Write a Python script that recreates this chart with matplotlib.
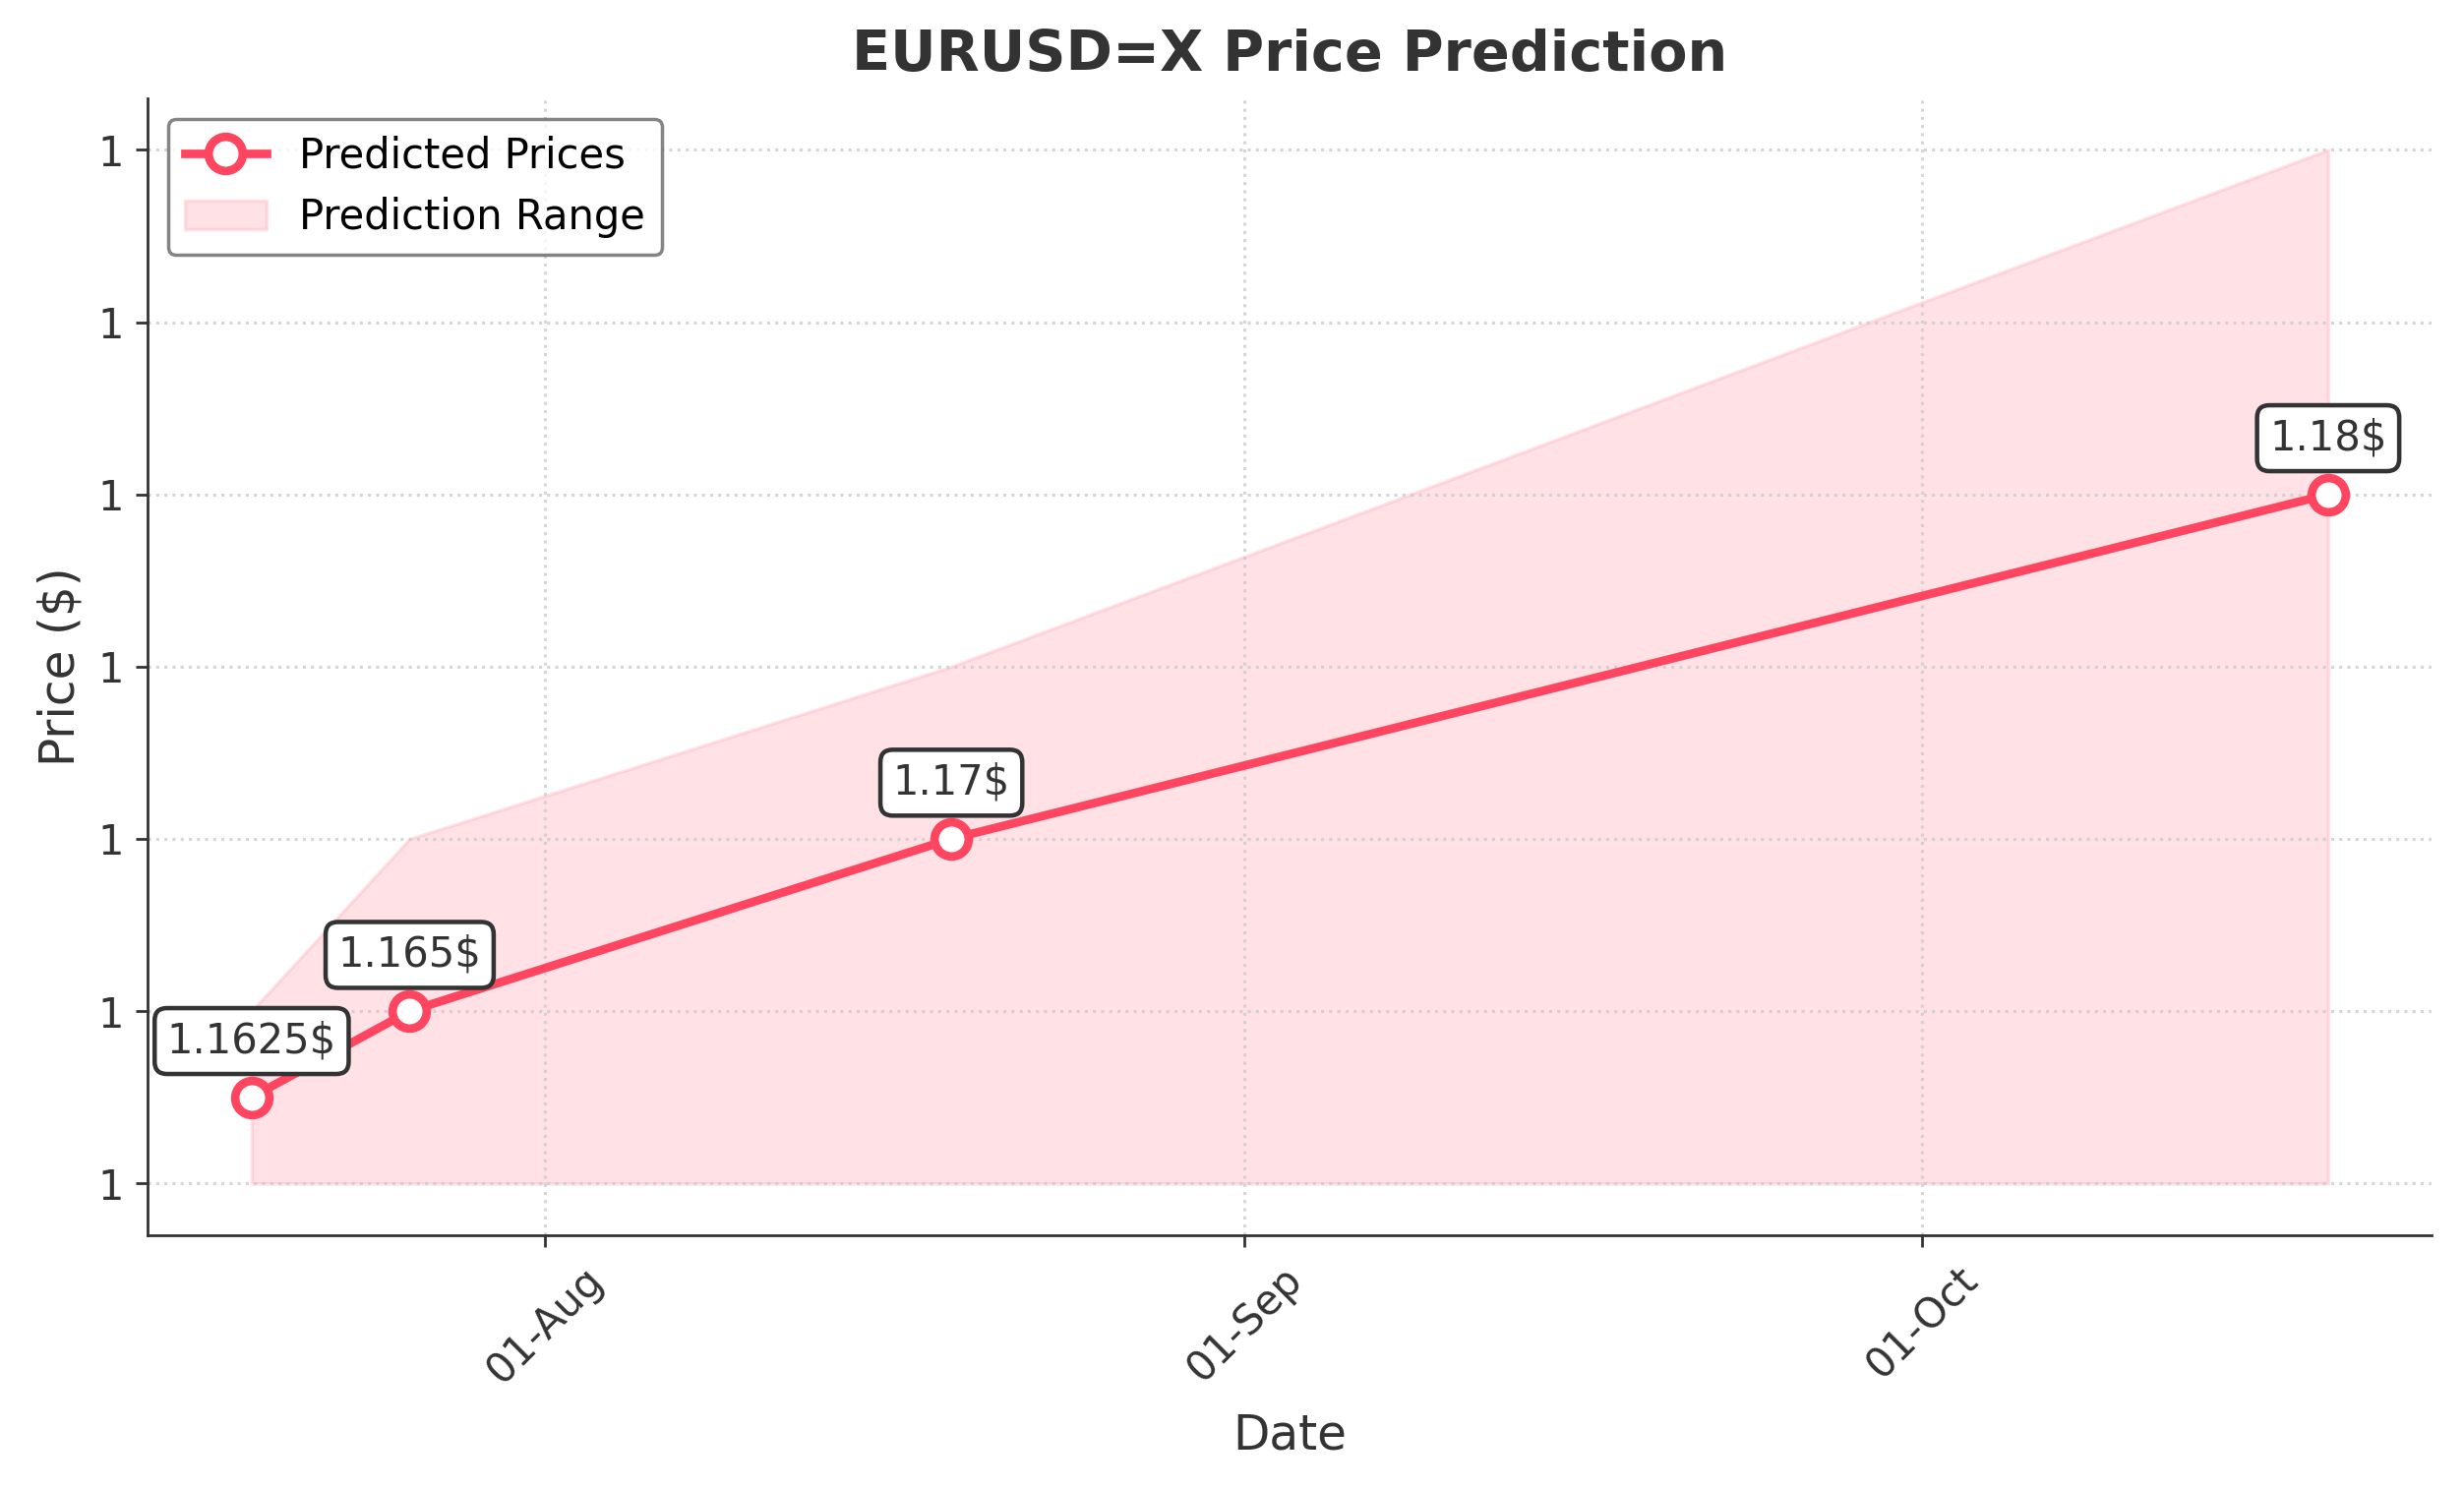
import matplotlib
matplotlib.use("Agg")
import matplotlib.pyplot as plt
import matplotlib.dates as mdates
import numpy as np
import pandas as pd

# data
dates = pd.to_datetime(["2025-07-19", "2025-07-26", "2025-08-19", "2025-10-19"])
predicted = [1.1625, 1.165, 1.17, 1.18]
range_low = [1.16, 1.16, 1.16, 1.16]
range_high = [1.165, 1.17, 1.175, 1.19]
labels = ["1.1625$", "1.165$", "1.17$", "1.18$"]

line_color = "#FF4560"
text_color = "#333333"

plt.rcParams['font.family'] = ['DejaVu Sans']
plt.rcParams['text.color'] = text_color
plt.rcParams['axes.labelcolor'] = text_color
plt.rcParams['xtick.color'] = text_color
plt.rcParams['ytick.color'] = text_color

fig, ax = plt.subplots(figsize=(10.02, 6.052), dpi=250)
fig.subplots_adjust(left=0.060, right=0.987, bottom=0.170, top=0.934)

ax.fill_between(dates, range_low, range_high, color="#FFB6C1", alpha=0.4,
                label="Prediction Range")
ax.plot(dates, predicted, color=line_color, linewidth=2.5, marker="o",
        markersize=10, markerfacecolor="white", markeredgecolor=line_color,
        markeredgewidth=2.5, label="Predicted Prices")

for d, p, t in zip(dates, predicted, labels):
    ax.annotate(t, (d, p), textcoords="offset points", xytext=(0, 13),
                ha="center", fontsize=12, color=text_color,
                bbox=dict(boxstyle="round,pad=0.3", fc="white", ec=text_color, lw=1.3))

ax.set_title("EURUSD=X Price Prediction", fontsize=16.5, fontweight="bold",
             color=text_color, pad=8)
ax.set_xlabel("Date", fontsize=14, labelpad=6)
ax.set_ylabel("Price ($)", fontsize=14)

ax.xaxis.set_major_locator(mdates.MonthLocator())
ax.xaxis.set_major_formatter(mdates.DateFormatter("%d-%b"))
ax.yaxis.set_major_formatter(matplotlib.ticker.FormatStrFormatter("%.0f"))
plt.setp(ax.get_xticklabels(), rotation=45)
ax.tick_params(labelsize=12)

ax.grid(True, linestyle=":", color="#CCCCCC", linewidth=0.9, alpha=0.8)
ax.spines["top"].set_visible(False)
ax.spines["right"].set_visible(False)
for s in ("left", "bottom"):
    ax.spines[s].set_color(text_color)

handles, lbls = ax.get_legend_handles_labels()
leg = ax.legend(handles[::-1], lbls[::-1], loc="upper left", fontsize=12,
                frameon=True, edgecolor="#666666", labelcolor="black")

fig.savefig("out.png", dpi=250)
